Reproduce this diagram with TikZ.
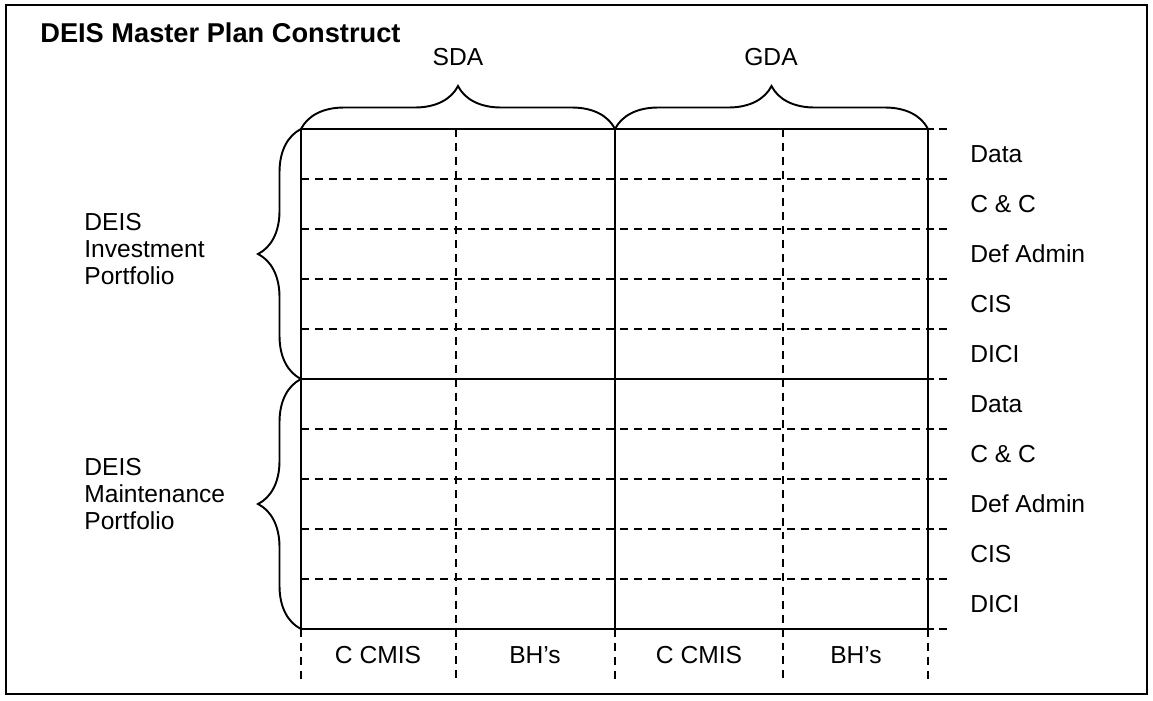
\documentclass[tikz,border=0pt]{standalone}
\usepackage{fontspec}
\setmainfont{Liberation Sans}
\setsansfont{Liberation Sans}
\usetikzlibrary{decorations.pathreplacing}
\tikzstyle{every picture}+=[font=\sffamily]
\tikzstyle{solidline}=[line width=1.1pt]
\tikzstyle{dashline}=[line width=1.1pt, dash pattern=on 4.5pt off 3.4pt]
\tikzstyle{curly}=[line width=1.1pt, decorate, decoration={brace, amplitude=0.86cm}]
\tikzstyle{lbl}=[inner sep=0pt, font=\sffamily\fontsize{14}{15.3}\selectfont]

\begin{document}
\begin{tikzpicture}[x=0.02cm, y=-0.02cm]
\useasboundingbox (0,0) rectangle (1153,700);
%% frame
\draw[line width=1.6pt] (6,5) rectangle (1147,694);

%% grid corners
\coordinate (gtl) at (301,129);
\coordinate (gtm) at (615,129);
\coordinate (gtr) at (928,129);
\coordinate (gml) at (301,379);
\coordinate (gmr) at (928,379);
\coordinate (gbl) at (301,629);
\coordinate (gbm) at (615,629);
\coordinate (gbr) at (928,629);

%% dashed rows and columns
\foreach \y in {129,179,229,279,329,379,429,479,529,579,629}
  \draw[dashline] (301,\y) -- (951,\y);
\foreach \x in {456,783}
  \draw[dashline] (\x,129) -- (\x,680);
\foreach \x in {301,615,928}
  \draw[dashline] (\x,629) -- (\x,680);

%% solid frame of the grid
\draw[solidline] (gtl) rectangle (gbr);
\draw[solidline] (gtm) -- (gbm);
\draw[solidline] (gml) -- (gmr);

%% braces
\draw[curly] (gtl) -- (gtm);
\draw[curly] (gtm) -- (gtr);
\draw[curly] (gml) -- (gtl);
\draw[curly] (gbl) -- (gml);

%% Labels
\node[anchor=west, inner sep=0pt, font=\sffamily\bfseries\fontsize{15.5}{17}\selectfont] (title) at (40,33) {DEIS Master Plan Construct};
\node[lbl] (sda) at (458,57) {SDA};
\node[lbl] (gda) at (771,57) {GDA};

\node[lbl, anchor=west, align=left] (invest) at (84,249) {DEIS\\Investment\\Portfolio};
\node[lbl, anchor=west, align=left] (maint) at (84,494) {DEIS\\Maintenance\\Portfolio};

\foreach \lab [count=\i] in {Data,C \& C,Def Admin,CIS,DICI}{
  \node[lbl, anchor=west] (inv\i) at (970,{104+50*\i}) {\lab};
  \node[lbl, anchor=west] (mnt\i) at (970,{354+50*\i}) {\lab};
}

\node[lbl] (ccmis1) at (378,655) {C CMIS};
\node[lbl] (bhs1) at (535,655) {BH’s};
\node[lbl] (ccmis2) at (699,655) {C CMIS};
\node[lbl] (bhs2) at (856,655) {BH’s};

\end{tikzpicture}
\end{document}
